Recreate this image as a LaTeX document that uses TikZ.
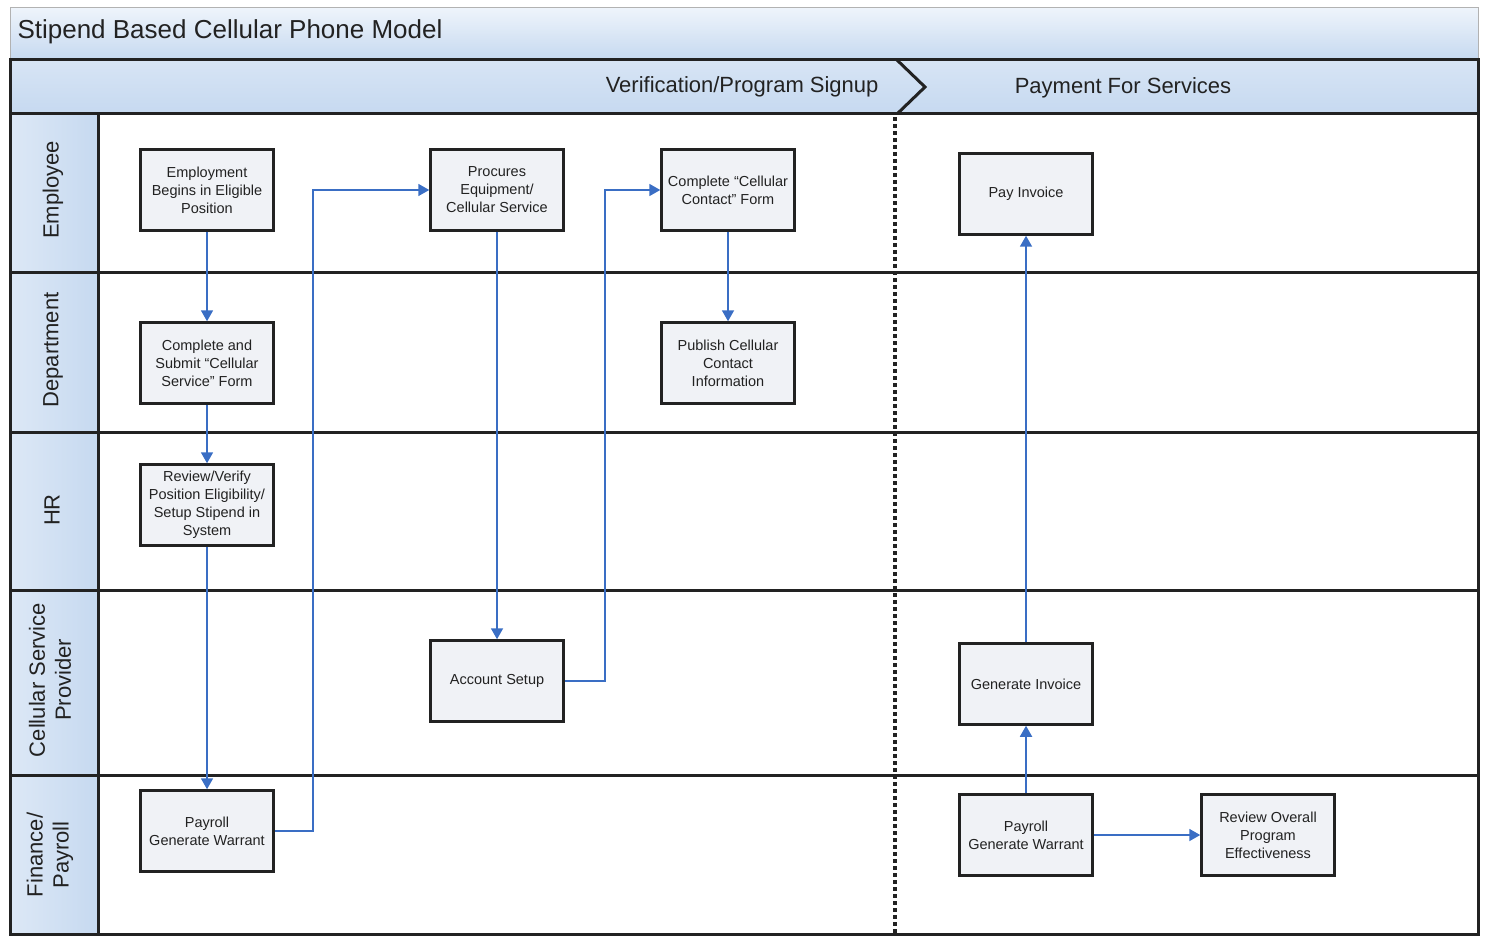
\documentclass[tikz,border=0pt]{standalone}
\usepackage{fontspec}
\setmainfont{Liberation Sans}
\usetikzlibrary{positioning,arrows.meta}
\definecolor{flowblue}{HTML}{3A6EC4}
\definecolor{boxfill}{HTML}{F0F2F6}
\definecolor{framegray}{HTML}{222222}
\definecolor{bandtop}{HTML}{EEF4FB}
\definecolor{bandblue}{HTML}{C6D9F0}
\begin{document}
\begin{tikzpicture}[x=1pt, y=-1pt, node distance={173pt},
  main/.style = {draw=framegray, line width=2.5pt, fill=boxfill, minimum width=133pt, minimum height=81pt, inner sep=2pt, align=center, text=framegray, font=\fontsize{14.5}{18}\selectfont},
  flow/.style = {draw=flowblue, line width=1.8pt, -{Triangle[length=11pt,width=12pt]}},
  rule/.style = {draw=framegray, line width=3pt},
  lane/.style = {rotate=90, align=center, text=framegray, font=\fontsize{22}{26}\selectfont},
  phase/.style = {text=framegray, font=\fontsize{22}{26}\selectfont}]
\useasboundingbox (0,0) rectangle (1486,936);
% bands and lanes
\shade[top color=bandtop, bottom color=bandblue] (10,8) rectangle (1478,60);
\draw[gray!60, line width=1pt] (10,8) rectangle (1478,60);
\shade[top color=bandblue!70!white, bottom color=bandblue] (10,60) rectangle (1478,114);
\shade[left color=bandblue!60!white, right color=bandblue] (10,114) rectangle (98,934);
\draw[rule] (10,60) rectangle (1478,934);
\draw[rule] (10,114) -- (1478,114);
\foreach \y in {272,432,590,775} \draw[rule] (10,\y) -- (1478,\y);
\draw[rule] (98,114) -- (98,934);
\draw[rule, line join=miter] (897,60) -- (925,87) -- (897,114);
\draw[framegray, line width=3.5pt, dash pattern=on 4pt off 3pt] (895,117) -- (895,934);

\node[anchor=west, text=framegray, font=\fontsize{26}{30}\selectfont] (title) at (14,32) {Stipend Based Cellular Phone Model};
\node[phase, anchor=east] (signup) at (882,87) {Verification/Program Signup};
\node[phase] (payment) at (1123,88) {Payment For Services};

\node[lane] (employee) at (53,190) {Employee};
\node[lane] (department) at (53,350) {Department};
\node[lane] (hr) at (52,510) {HR};
\node[lane] (provider) at (50,680) {Cellular Service\\Provider};
\node[lane] (finance) at (50,855) {Finance/\\Payroll};

% process boxes
\node[main] (1) at (207,190) {Employment\\Begins in Eligible\\Position};
\node[main] (2) [below of=1] {Complete and\\Submit “Cellular\\Service” Form};
\node[main] (3) [below of=2, node distance=142pt] {Review/Verify\\Position Eligibility/\\Setup Stipend in\\System};
\node[main] (4) [below of=3, node distance=326pt] {Payroll\\Generate Warrant};
\node[main] (5) [right of=1, node distance=290pt] {Procures\\Equipment/\\Cellular Service};
\node[main] (6) [below of=5, node distance=491pt] {Account Setup};
\node[main] (7) [right of=5, node distance=231pt] {Complete “Cellular\\Contact” Form};
\node[main] (8) [below of=7] {Publish Cellular\\Contact\\Information};
\node[main] (9) [right of=7, node distance=298pt, yshift=-4pt] {Pay Invoice};
\node[main] (10) [below of=9, node distance=490pt] {Generate Invoice};
\node[main] (11) [below of=10, node distance=151pt] {Payroll\\Generate Warrant};
\node[main] (12) [right of=11, node distance=242pt] {Review Overall\\Program\\Effectiveness};

\draw[flow] (1) -- (2);
\draw[flow] (2) -- (3);
\draw[flow] (3) -- (4);
\draw[flow] (4.east) -- ++(38,0) |- (5.west);
\draw[flow] (5) -- (6);
\draw[flow] (6.east) -- ++(40,0) |- (7.west);
\draw[flow] (7) -- (8);
\draw[flow] (11) -- (10);
\draw[flow] (10) -- (9);
\draw[flow] (11) -- (12);
\end{tikzpicture}
\end{document}
